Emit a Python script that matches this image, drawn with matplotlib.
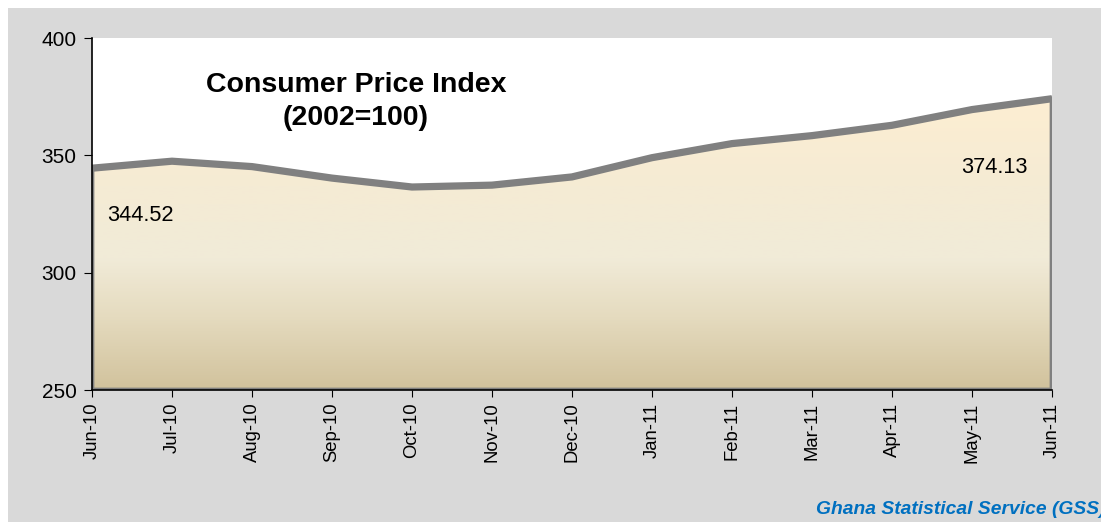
import matplotlib
matplotlib.use('Agg')
import matplotlib.pyplot as plt
from matplotlib.patches import Rectangle, Polygon
from matplotlib.colors import LinearSegmentedColormap
import numpy as np

plt.rcParams['font.family'] = ['Liberation Sans', 'DejaVu Sans']

meses = ['Jun-10', 'Jul-10', 'Aug-10', 'Sep-10', 'Oct-10', 'Nov-10', 'Dec-10',
         'Jan-11', 'Feb-11', 'Mar-11', 'Apr-11', 'May-11', 'Jun-11']
cpi = [344.52, 347.5, 345.2, 340.3, 336.5, 337.3, 340.8,
       349.0, 355.0, 358.4, 362.8, 369.5, 374.13]
y_ticks = [250, 300, 350, 400]

W, H = 1101, 525
fig = plt.figure(figsize=(W / 100, H / 100), dpi=100)
fig.patch.set_facecolor('white')

# fundo cinza do quadro
fig.patches.append(Rectangle((8 / W, 3 / H), 1.0, (522 - 8) / H,
                             transform=fig.transFigure, facecolor='#d9d9d9',
                             edgecolor='none', zorder=-10))

ax = fig.add_axes([92 / W, (H - 390) / H, (1052 - 92) / W, (390 - 38) / H])
ax.set_zorder(1)
ax.set_facecolor('white')

x = np.arange(len(meses))
ymin, ymax = 250, 400

# area com gradiente
verts = [(x[0], ymin)] + list(zip(x, cpi)) + [(x[-1], ymin)]
poly = Polygon(verts, closed=True, facecolor='none', edgecolor='#808080',
               linewidth=3.4, zorder=3, joinstyle='miter')
ax.add_patch(poly)

cmap = LinearSegmentedColormap.from_list('cpi', [
    (0.0, '#d1c29c'),
    (0.25, '#e5dbbf'),
    (0.45, '#f1ebd8'),
    (0.7, '#f5ebd4'),
    (1.0, '#fdeed2'),
])
grad = np.linspace(0, 1, 256).reshape(-1, 1)
img = ax.imshow(grad, cmap=cmap, aspect='auto', origin='lower',
                extent=[x[0], x[-1], ymin, max(cpi)], zorder=2)
img.set_clip_path(poly)

ax.plot(x, cpi, color='#808080', linewidth=5.2, solid_joinstyle='round',
        solid_capstyle='butt', zorder=4)

ax.set_xlim(x[0], x[-1])
ax.set_ylim(ymin, ymax)
ax.set_yticks(y_ticks)
ax.set_yticklabels([str(v) for v in y_ticks], fontsize=15)
ax.set_xticks(x)
ax.set_xticklabels(meses, rotation=90, fontsize=13.3, va='top')

ax.tick_params(axis='y', direction='out', length=6, width=0.8, pad=5)
ax.tick_params(axis='x', direction='out', length=5, width=0.8, pad=4)

for lado in ['top', 'right']:
    ax.spines[lado].set_visible(False)
for lado in ['left', 'bottom']:
    ax.spines[lado].set_color('black')
    ax.spines[lado].set_linewidth(1.2)
    ax.spines[lado].set_zorder(5)

# titulo dentro do grafico
ax.text(3.3, 379.8, 'Consumer Price Index', ha='center', va='center',
        fontsize=20.5, fontweight='bold', zorder=6)
ax.text(3.3, 365.8, '(2002=100)', ha='center', va='center',
        fontsize=20.5, fontweight='bold', zorder=6)

# valores das pontas
ax.text(0.19, 324.2, f'{cpi[0]:.2f}', ha='left', va='center', fontsize=15.7, zorder=6)
ax.text(11.69, 345.0, f'{cpi[-1]:.2f}', ha='right', va='center', fontsize=15.7, zorder=6)

fig.text(1106 / W, (H - 510) / H, 'Ghana Statistical Service (GSS)',
         ha='right', va='center', fontsize=13.9, fontweight='bold',
         fontstyle='italic', color='#0070c0')

fig.savefig('out.png', dpi=100)
